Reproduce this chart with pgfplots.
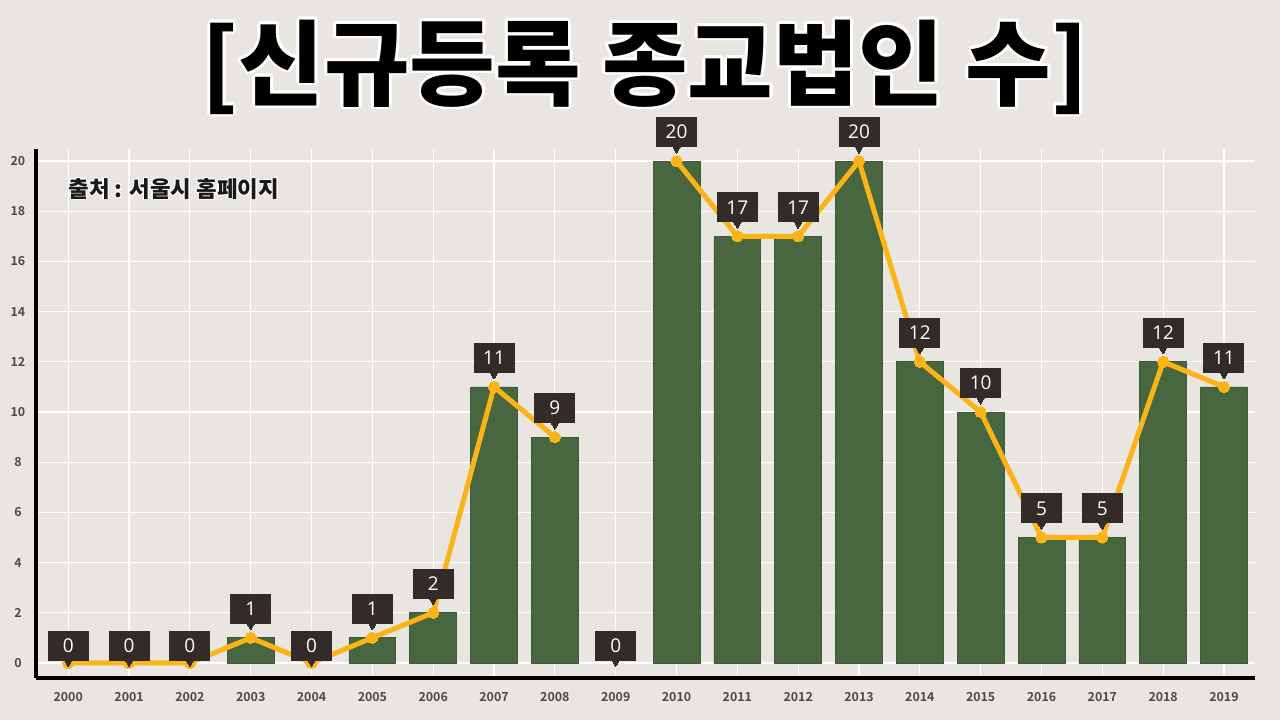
\documentclass[border=0pt]{standalone}
\usepackage{fontspec}
\setmainfont{Noto Sans}
\newfontfamily\krblack{Noto Sans CJK KR Black}
\newfontfamily\krbold{Noto Sans CJK KR Bold}
\newfontfamily\labfont{Open Sans}
\usepackage{pgfplots}
\usepackage{pgfplotstable}
\pgfplotsset{compat=1.18}

\definecolor{bgc}{HTML}{E9E6E2}
\definecolor{barc}{HTML}{486640}
\definecolor{linec}{HTML}{FBB416}
\definecolor{boxc}{HTML}{322B29}
\definecolor{tickc}{HTML}{4A4A4A}

% year index (0 = 2000) and count
\pgfplotstableread{
x y
3 1
5 1
6 2
7 11
8 9
10 20
11 17
12 17
13 20
14 12
15 10
16 5
17 5
18 12
19 11
}\bardata

\pgfplotstableread{
x y
0 0
1 0
2 0
3 1
4 0
5 1
6 2
7 11
8 9
9 nan
10 20
11 17
12 17
13 20
14 12
15 10
16 5
17 5
18 12
19 11
}\linedata

\pgfplotstableread{
x y
0 0
1 0
2 0
4 0
9 0
}\zerodata

\tikzset{
  labbox/.style={rectangle, fill=boxc, text=white,
    font=\labfont\fontsize{9.5}{10}\selectfont,
    minimum width=20.5pt, minimum height=15pt, inner sep=0pt,
    outer sep=0pt, anchor=center}
}

\begin{document}
\begin{tikzpicture}
\useasboundingbox (0,0) rectangle (640pt,360pt);
\fill[bgc] (0,0) rectangle (640pt,360pt);
\begin{axis}[
  at={(18pt,21pt)}, anchor=south west,
  scale only axis, width=609.5pt, height=264.5pt,
  xmin=-0.53, xmax=19.51, ymin=-0.6, ymax=20.48,
  axis x line=bottom, axis y line=left,
  axis line style={-, line width=2pt, black},
  xtick={0,...,19},
  xticklabel={\pgfmathparse{int(round(\tick)+2000)}\pgfmathresult},
  ytick={0,2,...,20},
  major tick length=0pt,
  grid=major, grid style={white, line width=0.6pt},
  tick label style={font=\krbold\fontsize{6.2}{7}\selectfont, text=tickc},
  /pgf/number format/assume math mode=true,
  xticklabel style={anchor=center, yshift=-9.5pt},
  yticklabel style={anchor=center, xshift=-9pt},
]
\addplot[ybar, bar width=0.77, fill=barc, draw=barc!88!black, line width=0.4pt]
  table[x=x, y=y] {\bardata};
\addplot[linec, line width=2.5pt, mark=*, mark size=2.8pt,
  mark options={fill=linec, draw=linec, line width=0pt}, unbounded coords=jump]
  table[x=x, y=y] {\linedata};
% value boxes with a small pointer below (the mark shift also moves the box)
\addplot[only marks, mark=triangle*, mark size=2.5pt,
  mark options={yshift=6.5pt, rotate=180, fill=boxc, draw=boxc, line width=0pt},
  nodes near coords,
  every node near coord/.append style={labbox, yshift=8pt}]
  table[x=x, y=y] {\bardata};
\addplot[only marks, mark=triangle*, mark size=2.5pt,
  mark options={yshift=0.75pt, rotate=180, fill=boxc, draw=boxc, line width=0pt},
  nodes near coords,
  every node near coord/.append style={labbox, yshift=7.75pt}]
  table[x=x, y=y] {\zerodata};
\end{axis}

\foreach \a in {0,30,...,330}
  \node[text=white, font=\krblack\fontsize{46.5}{50}\selectfont]
    at ([shift={(\a:1.4pt)}]322.5pt,326.5pt) {[신규등록 종교법인 수]};
\node[text=black, font=\krblack\fontsize{46.5}{50}\selectfont]
  at (322.5pt,326.5pt) {[신규등록 종교법인 수]};

\foreach \a in {0,45,...,315}
  \node[anchor=west, inner sep=0pt, text=white, font=\krblack\fontsize{11.2}{12}\selectfont]
    at ([shift={(\a:0.6pt)}]34pt,265.5pt) {출처 : 서울시 홈페이지};
\node[anchor=west, inner sep=0pt, text=black!90, font=\krblack\fontsize{11.2}{12}\selectfont]
  at (34pt,265.5pt) {출처 : 서울시 홈페이지};
\end{tikzpicture}
\end{document}
